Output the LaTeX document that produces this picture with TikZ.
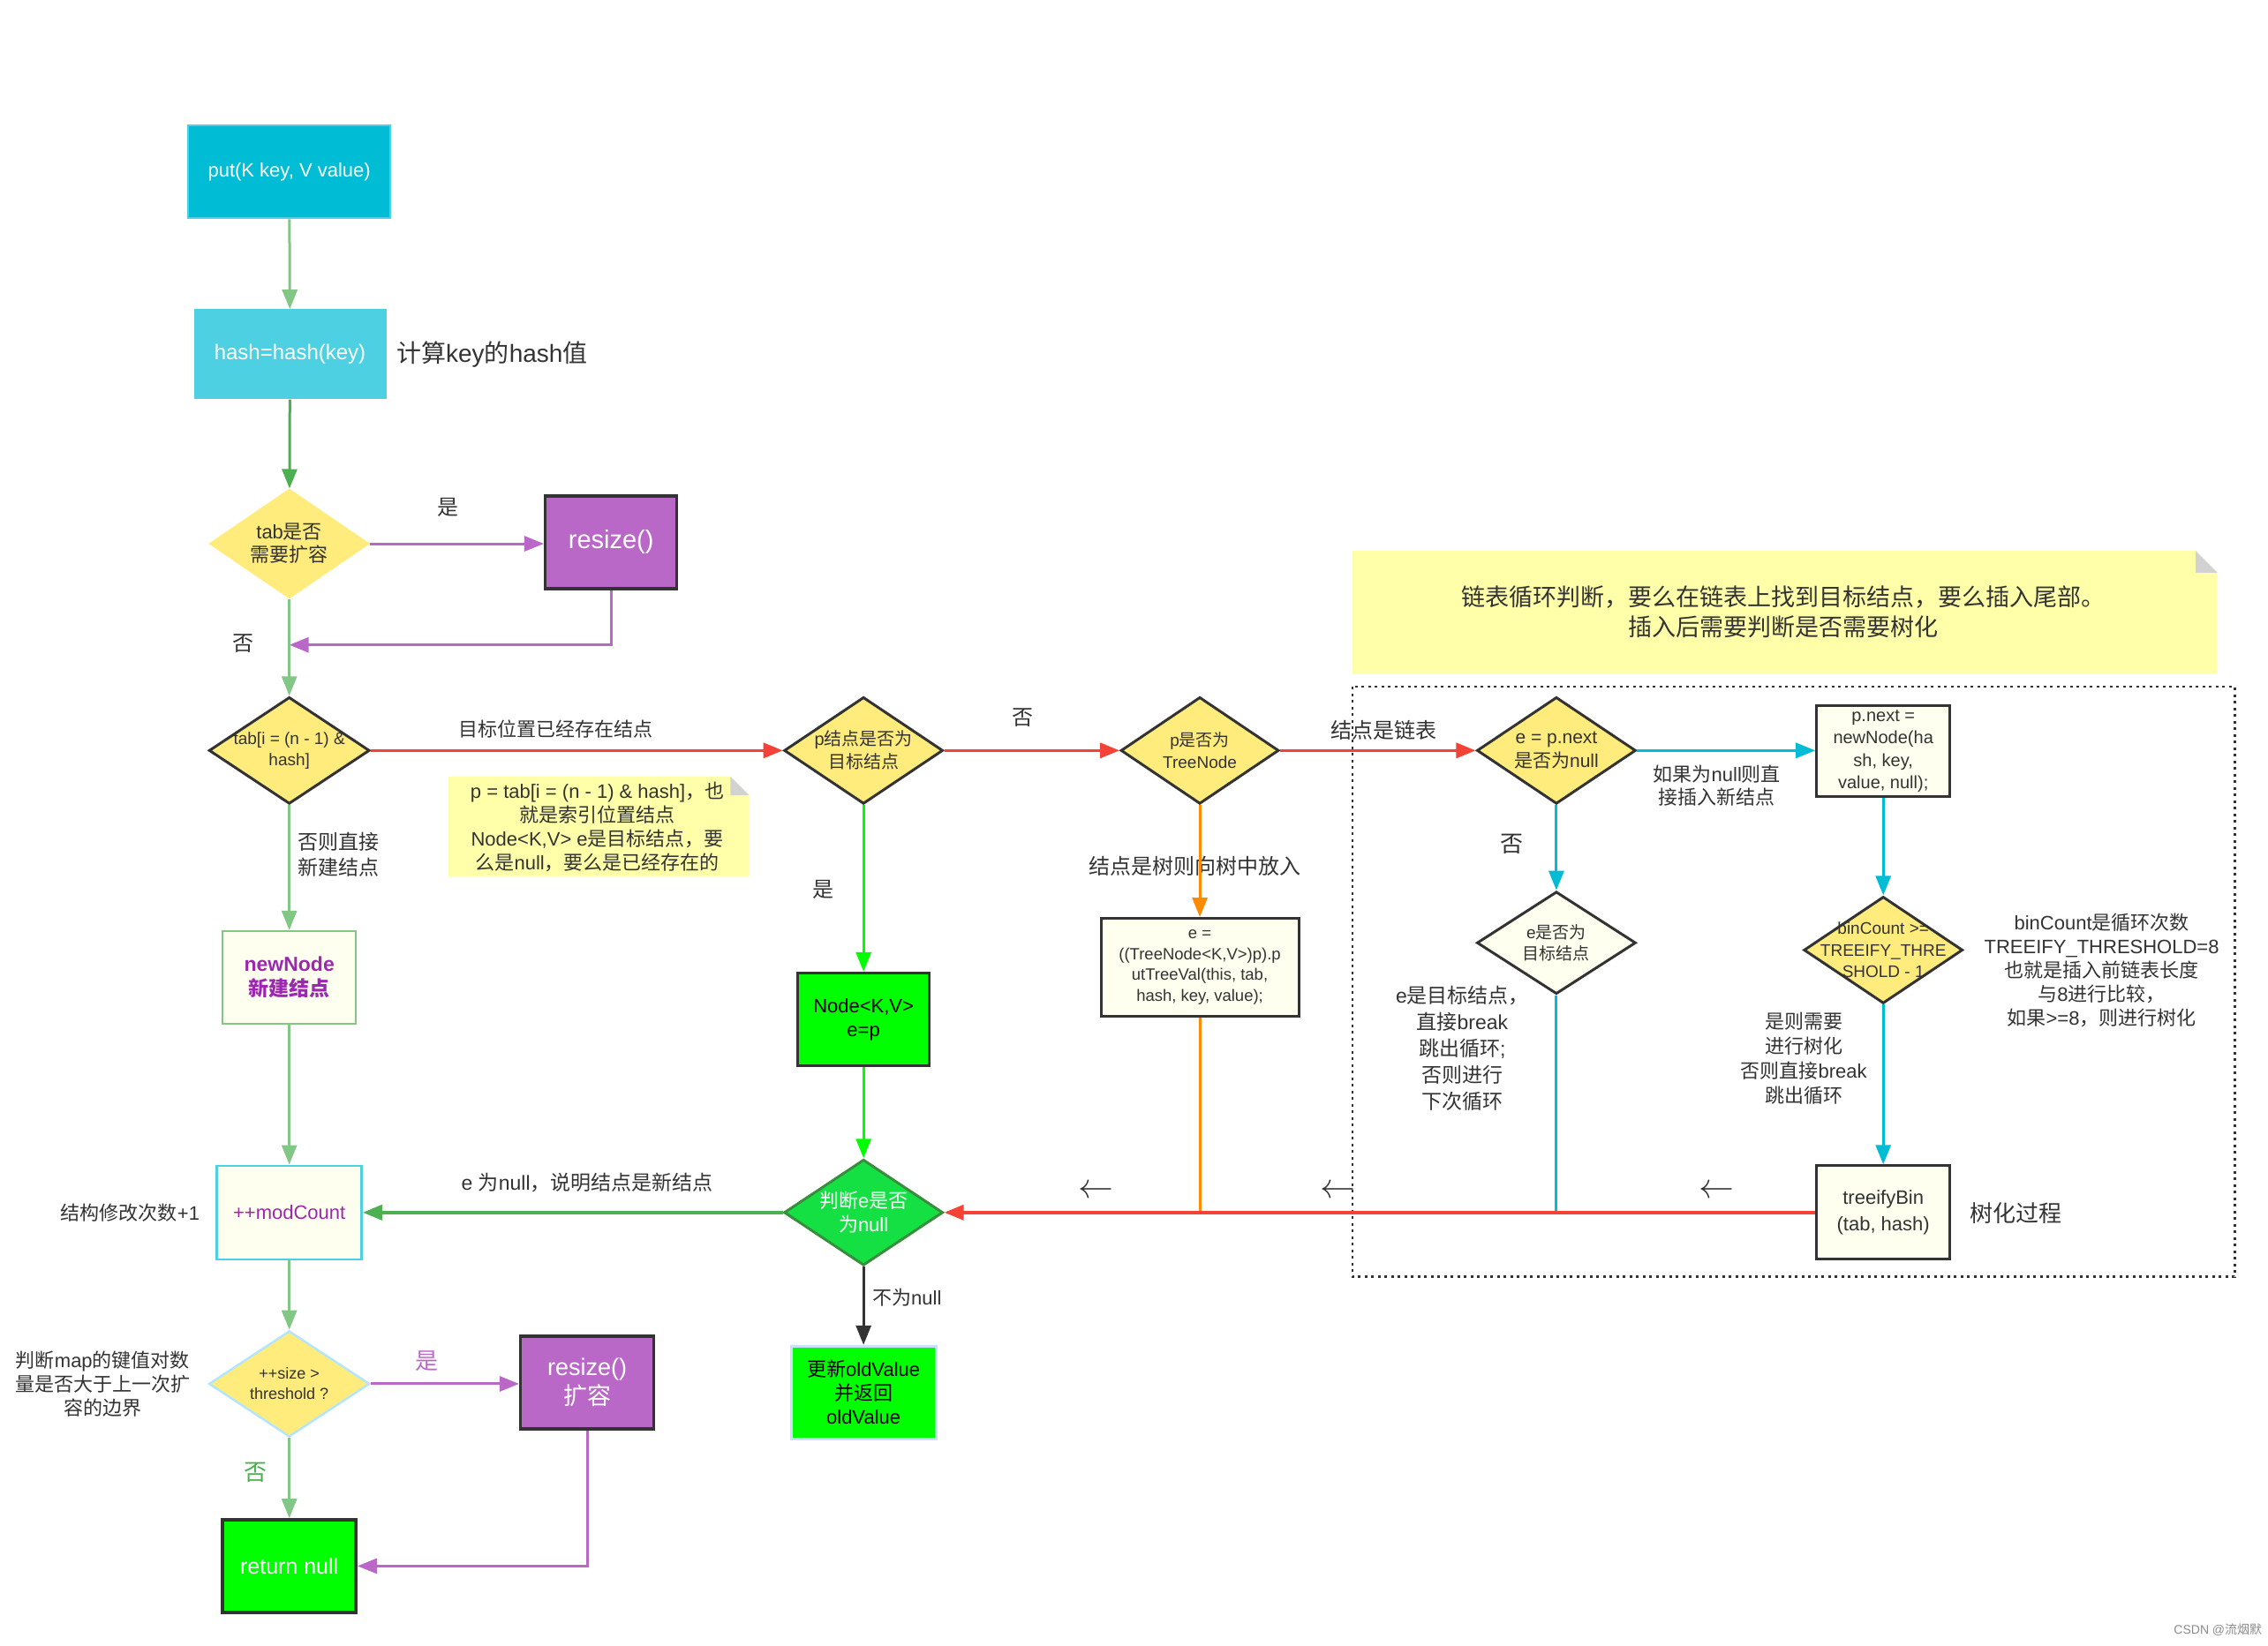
\documentclass[tikz,border=0pt]{standalone}
\usepackage{graphicx}
\usepackage{fontspec}
\setmainfont{Liberation Sans}
\newfontfamily\cjk{Noto Sans CJK SC}
\usetikzlibrary{shapes.geometric,arrows.meta,calc}
\XeTeXinterchartokenstate=1
\newXeTeXintercharclass\CJKcls
\newcount\cjkcnt
\cjkcnt="4E00
\loop \XeTeXcharclass\cjkcnt=\CJKcls \advance\cjkcnt by 1 \ifnum\cjkcnt<"A000 \repeat
\cjkcnt="3000
\loop \XeTeXcharclass\cjkcnt=\CJKcls \advance\cjkcnt by 1 \ifnum\cjkcnt<"3040 \repeat
\cjkcnt="FF00
\loop \XeTeXcharclass\cjkcnt=\CJKcls \advance\cjkcnt by 1 \ifnum\cjkcnt<"FFF0 \repeat
\XeTeXinterchartoks 0 \CJKcls = {\begingroup\cjk}
\XeTeXinterchartoks 4095 \CJKcls = {\begingroup\cjk}
\XeTeXinterchartoks \CJKcls 0 = {\endgroup}
\XeTeXinterchartoks \CJKcls 4095 = {\endgroup}
\definecolor{putc}{RGB}{0,188,212}
\definecolor{putb}{RGB}{77,208,225}
\definecolor{hashc}{RGB}{77,208,225}
\definecolor{lg}{RGB}{130,199,133}
\definecolor{dg}{RGB}{76,175,80}
\definecolor{yel}{RGB}{255,236,125}
\definecolor{pur}{RGB}{186,104,200}
\definecolor{dk}{RGB}{51,51,51}
\definecolor{ivory}{RGB}{254,255,238}
\definecolor{notey}{RGB}{255,255,170}
\definecolor{redc}{RGB}{244,67,54}
\definecolor{bg}{RGB}{0,255,0}
\definecolor{jg}{RGB}{20,224,68}
\definecolor{jgb}{RGB}{56,142,60}
\definecolor{orc}{RGB}{255,140,0}
\definecolor{cy}{RGB}{0,188,212}
\definecolor{lb}{RGB}{179,229,252}
\definecolor{lb2}{RGB}{200,225,250}
\definecolor{txt}{RGB}{51,51,51}
\definecolor{newp}{RGB}{156,39,176}
\definecolor{foldc}{RGB}{210,210,210}
\tikzset{
  box/.style={rectangle, inner sep=0pt, align=center},
  dia/.style={diamond, inner sep=0pt},
  arr/.style={-{Triangle[length=22pt,width=17pt]}, line width=3pt},
  fnt/.style 2 args={font=\fontsize{#1}{#2}\selectfont},
}
\begin{document}
\begin{tikzpicture}[x=1.6384pt,y=-1.6384pt, every node/.style={text=txt}]
\useasboundingbox (0,0) rectangle (1568,1138);
\fill[white] (0,0) rectangle (1568,1138);

% notes and dotted frame
\fill[notey] (310,537) -- (505,537) -- (518,550) -- (518,606) -- (310,606) -- cycle;
\fill[foldc] (505,537) -- (518,550) -- (505,550) -- cycle;
\fill[notey] (935,381) -- (1518,381) -- (1533,396) -- (1533,466) -- (935,466) -- cycle;
\fill[foldc] (1518,381) -- (1533,396) -- (1518,396) -- cycle;
\draw[dk, line width=2.5pt, dash pattern=on 3pt off 4.5pt] (935,475) rectangle (1545,883);

% left column
\node[box, fill=putc, draw=putb, line width=2pt, minimum width=229pt, minimum height=105pt, text=white, fnt={22}{26}] (put) at (200,119) {put(K key, V value)};
\node[box, fill=hashc, minimum width=218pt, minimum height=102pt, text=white, fnt={24}{28}] (hash) at (200.5,245) {hash=hash(key)};
\node[fnt={28}{32}, anchor=west] (hashl) at (272,245) {计算key的hash值};

\node[dia, fill=yel, minimum width=183pt, minimum height=125pt] (tabq) at (200,376) {};
\node[fnt={22}{26}, align=center] (tabqt) at (tabq) {tab是否\\需要扩容};
\node[box, fill=pur, draw=dk, line width=3.5pt, minimum width=149pt, minimum height=105pt, text=white, fnt={29}{33}] (rs1) at (422.5,375) {resize()};
\node[fnt={24}{28}] (yes1) at (310,351) {是};
\node[fnt={24}{28}] (no1) at (168,445) {否};

\node[dia, fill=yel, draw=dk, line width=3pt, minimum width=182pt, minimum height=121pt] (tabi) at (200,519) {};
\node[fnt={19}{24}, align=center] (tabit) at (tabi) {tab[i = (n - 1) \&\\hash]};
\node[fnt={22}{26}] (l2) at (384,504) {目标位置已经存在结点};
\node[fnt={22}{27}, align=center] (n1t) at (413,572) {p = tab[i = (n - 1) \& hash]，也\\就是索引位置结点\\Node<K,V> e是目标结点，要\\么是null，要么是已经存在的};
\node[fnt={23}{29}, align=left, anchor=west] (l3) at (204,591) {否则直接\\新建结点};

\node[box, fill=ivory, draw=lg, line width=2.5pt, minimum width=151pt, minimum height=105pt, text=newp, font=\bfseries\fontsize{23}{28}\selectfont] (newn) at (200,676) {newNode\\新建结点};
\node[box, fill=ivory, draw=putb, line width=2.5pt, minimum width=164pt, minimum height=106pt, text=newp, fnt={22}{26}] (modc) at (200,838.5) {++modCount};
\node[fnt={22}{26}] (l4) at (90,839) {结构修改次数+1};

\node[dia, fill=yel, draw=lb, line width=2.5pt, minimum width=182pt, minimum height=120pt] (sizeq) at (200,957) {};
\node[fnt={18}{23}, align=center] (sizeqt) at (sizeq) {++size >\\threshold ?};
\node[fnt={22}{27}, align=center] (l5) at (71,957) {判断map的键值对数\\量是否大于上一次扩\\容的边界};
\node[box, fill=pur, draw=dk, line width=3.5pt, minimum width=151pt, minimum height=105pt, text=white, fnt={27}{33}] (rs2) at (406,956) {resize()\\扩容};
\node[fnt={26}{30}, text=pur] (yes2) at (295,941) {是};
\node[fnt={26}{30}, text=dg] (no2) at (177,1018) {否};
\node[box, fill=bg, draw=dk, line width=3.5pt, minimum width=151pt, minimum height=105pt, text=white, fnt={25}{29}] (ret) at (200,1083) {return null};

% middle
\node[dia, fill=yel, draw=dk, line width=3pt, minimum width=180pt, minimum height=121pt] (pq) at (597,519) {};
\node[fnt={20}{26}, align=center] (pqt) at (pq) {p结点是否为\\目标结点};
\node[fnt={24}{28}] (no3) at (707,496) {否};
\node[dia, fill=yel, draw=dk, line width=3pt, minimum width=179pt, minimum height=121pt] (treeq) at (829.5,519) {};
\node[fnt={19}{25}, align=center] (treeqt) at (treeq) {p是否为\\TreeNode};
\node[fnt={24}{28}] (yes3) at (569,615) {是};
\node[box, fill=bg, draw=dk, line width=3.5pt, minimum width=149pt, minimum height=105pt, text=black, fnt={22}{27}] (nep) at (597,705) {Node<K,V>\\e=p};
\node[dia, fill=jg, draw=jgb, line width=3pt, minimum width=180pt, minimum height=120pt] (judge) at (597,838.5) {};
\node[fnt={22}{27}, align=center, text=white] (judget) at (judge) {判断e是否\\为null};
\node[fnt={23}{28}] (l6) at (406,818) {e 为null，说明结点是新结点};
\node[box, fill=bg, draw=lb2, line width=3pt, minimum width=164pt, minimum height=105pt, text=black, fnt={22}{27}] (oldv) at (597,963) {更新oldValue\\并返回\\oldValue};
\node[fnt={22}{26}, anchor=west] (l7) at (601,897) {不为null};
\node[box, fill=ivory, draw=dk, line width=3pt, minimum width=224pt, minimum height=111pt, fnt={18.5}{23.5}] (treeb) at (829.5,669) {e =\\((TreeNode<K,V>)p).p\\utTreeVal(this, tab,\\hash, key, value);};
\node[fnt={24}{28}] (l8) at (826,599) {结点是树则向树中放入};

% right part
\node[fnt={27}{34}, align=center] (n2t) at (1233,423) {链表循环判断，要么在链表上找到目标结点，要么插入尾部。\\插入后需要判断是否需要树化};
\node[fnt={24}{28}] (l9) at (957,505) {结点是链表};
\node[dia, fill=yel, draw=dk, line width=3pt, minimum width=180pt, minimum height=121pt] (enull) at (1076,519) {};
\node[fnt={21}{27}, align=center] (enullt) at (enull) {e = p.next\\是否为null};
\node[box, fill=ivory, draw=dk, line width=3pt, minimum width=151pt, minimum height=103pt, fnt={20}{25.5}] (pnext) at (1302,519.5) {p.next =\\newNode(ha\\sh, key,\\value, null);};
\node[fnt={22}{26}, align=center] (l10) at (1187,543) {如果为null则直\\接插入新结点};
\node[fnt={26}{30}] (no4) at (1045,584) {否};
\node[dia, fill=ivory, draw=dk, line width=3pt, minimum width=180pt, minimum height=116pt] (etar) at (1076,652) {};
\node[fnt={19}{24.5}, align=center] (etart) at (etar) {e是否为\\目标结点};
\node[fnt={23}{30}, align=center] (l11) at (1011,725) {e是目标结点，\\直接break\\跳出循环;\\否则进行\\下次循环};
\node[dia, fill=yel, draw=dk, line width=3pt, minimum width=180pt, minimum height=121pt] (binc) at (1302,657) {};
\node[fnt={19}{24.5}, align=center] (binct) at (binc) {binCount >=\\TREEIFY\_THRE\\SHOLD - 1};
\node[fnt={22}{27}, align=center] (l12) at (1453,671) {binCount是循环次数\\TREEIFY\_THRESHOLD=8\\也就是插入前链表长度\\与8进行比较，\\如果>=8，则进行树化};
\node[fnt={22}{28}, align=center] (l13) at (1247,732) {是则需要\\进行树化\\否则直接break\\跳出循环};
\node[box, fill=ivory, draw=dk, line width=3pt, minimum width=151pt, minimum height=106pt, fnt={22}{29.5}] (treeify) at (1302,838.5) {treeifyBin\\(tab, hash)};
\node[fnt={26}{30}] (l14) at (1394,839) {树化过程};

\node (la1) at (758,824) {\scalebox{4}{$\leftarrow$}};
\node (la2) at (925,824) {\scalebox{4}{$\leftarrow$}};
\node (la3) at (1187,824) {\scalebox{4}{$\leftarrow$}};
\node[font=\fontsize{14}{16}\selectfont, text=black!45, anchor=east] (wm) at (1566,1127) {CSDN @流烟默};

% connectors
\coordinate (m1) at (200,446);
\coordinate (j1) at (829.5,838.5);
\coordinate (j2) at (1076,838.5);
\draw[arr, lg] (put) -- (hash);
\draw[arr, dg] (hash) -- (tabq);
\draw[arr, pur] (tabq.east) -- (tabq.east -| rs1.west);
\draw[arr, pur] (rs1.south) |- (m1);
\draw[arr, lg] (tabq.south) -- (tabi.north);
\draw[arr, lg] (tabi.south) -- (newn.north);
\draw[arr, lg] (newn.south) -- (modc.north);
\draw[arr, lg] (modc.south) -- (sizeq.north);
\draw[arr, pur] (sizeq.east) -- (sizeq.east -| rs2.west);
\draw[arr, lg] (sizeq.south) -- (ret.north);
\draw[arr, pur] (rs2.south) |- (ret.east);
\draw[arr, redc, line width=3.5pt] (tabi.east) -- (pq.west);
\draw[arr, redc, line width=3.5pt] (pq.east) -- (treeq.west);
\draw[arr, bg] (pq.south) -- (nep.north);
\draw[arr, bg] (nep.south) -- (judge.north);
\draw[arr, dg, line width=3.5pt] (judge.west) -- (modc.east);
\draw[arr, dk] (judge.south) -- (oldv.north);
\draw[arr, orc] (treeq.south) -- (treeb.north);
\draw[orc, line width=3pt] (treeb.south) -- (j1);
\draw[arr, redc, line width=3.5pt] (treeq.east) -- (enull.west);
\draw[arr, cy] (enull.east) -- (enull.east -| pnext.west);
\draw[arr, cy] (enull.south) -- (etar.north);
\draw[cy, line width=3pt] (etar.south) -- (j2);
\draw[arr, cy] (pnext.south) -- (binc.north);
\draw[arr, cy] (binc.south) -- (treeify.north);
\draw[arr, redc, line width=3.5pt] (treeify.west) -- (judge.east);
\end{tikzpicture}
\end{document}
